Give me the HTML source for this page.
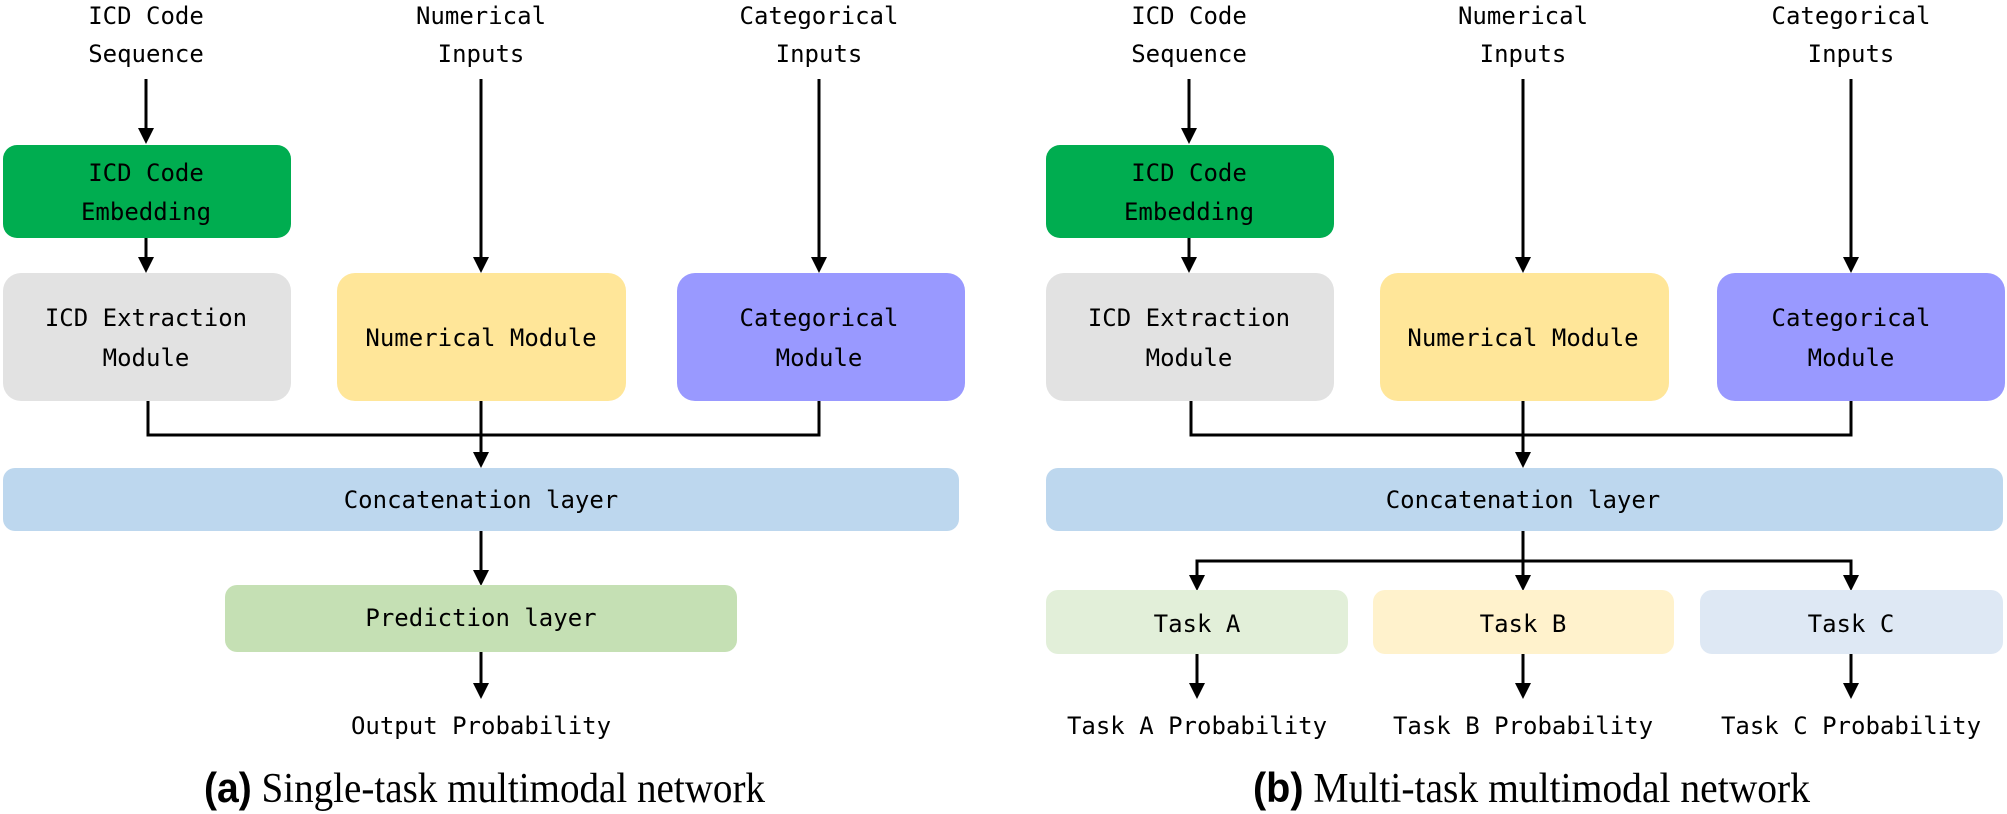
<!DOCTYPE html>
<html><head><meta charset="utf-8"><style>
html,body{margin:0;padding:0;background:#fff;}
svg{display:block;}
.m{font-family:"DejaVu Sans Mono","Liberation Mono",monospace;font-size:24px;fill:#000;text-anchor:middle;}
.c{font-family:"Liberation Serif",serif;font-size:42px;fill:#000;}
.b{font-family:"Liberation Sans",sans-serif;font-weight:bold;}
</style></head><body>
<svg width="2007" height="814" viewBox="0 0 2007 814" xmlns="http://www.w3.org/2000/svg">
<text class="m" x="146" y="24">ICD Code</text>
<text class="m" x="146" y="62">Sequence</text>
<text class="m" x="481" y="24">Numerical</text>
<text class="m" x="481" y="62">Inputs</text>
<text class="m" x="819" y="24">Categorical</text>
<text class="m" x="819" y="62">Inputs</text>
<g fill="none" stroke="#000" stroke-width="3">
<path d="M146 79V128"/><path d="M146 238V257"/>
<path d="M481 79V257"/><path d="M819 79V257"/>
<path d="M148 401V435H819V401"/><path d="M481 401V452"/>
<path d="M481 531V570"/><path d="M481 652V683"/>
<path d="M1189 79V128"/><path d="M1189 238V257"/>
<path d="M1523 79V257"/><path d="M1851 79V257"/>
<path d="M1191 401V435H1851V401"/><path d="M1523 401V452"/>
<path d="M1523 531V575"/><path d="M1197 575V561H1851V575"/>
<path d="M1197 654V683"/><path d="M1523 654V683"/><path d="M1851 654V683"/>
</g>
<g fill="#000">
<path d="M138 128h16l-8 16z"/><path d="M138 257h16l-8 16z"/>
<path d="M473 257h16l-8 16z"/><path d="M811 257h16l-8 16z"/>
<path d="M473 452h16l-8 16z"/><path d="M473 570h16l-8 16z"/><path d="M473 683h16l-8 16z"/>
<path d="M1181 128h16l-8 16z"/><path d="M1181 257h16l-8 16z"/>
<path d="M1515 257h16l-8 16z"/><path d="M1843 257h16l-8 16z"/>
<path d="M1515 452h16l-8 16z"/>
<path d="M1189 575h16l-8 16z"/><path d="M1515 575h16l-8 16z"/><path d="M1843 575h16l-8 16z"/>
<path d="M1189 683h16l-8 16z"/><path d="M1515 683h16l-8 16z"/><path d="M1843 683h16l-8 16z"/>
</g>
<rect x="3" y="145" width="288" height="93" rx="14" fill="#00ad50"/>
<text class="m" x="146" y="181">ICD Code</text><text class="m" x="146" y="220">Embedding</text>
<rect x="3" y="273" width="288" height="128" rx="18" fill="#e2e2e2"/>
<text class="m" x="146" y="326">ICD Extraction</text><text class="m" x="146" y="366">Module</text>
<rect x="337" y="273" width="289" height="128" rx="18" fill="#ffe699"/>
<text class="m" x="481" y="346">Numerical Module</text>
<rect x="677" y="273" width="288" height="128" rx="18" fill="#9999ff"/>
<text class="m" x="819" y="326">Categorical</text><text class="m" x="819" y="366">Module</text>
<rect x="3" y="468" width="956" height="63" rx="12" fill="#bdd7ee"/>
<text class="m" x="481" y="508">Concatenation layer</text>
<rect x="225" y="585" width="512" height="67" rx="12" fill="#c5e0b4"/>
<text class="m" x="481" y="626">Prediction layer</text>
<text class="m" x="481" y="734">Output Probability</text>
<text class="c" x="204" y="802" textLength="561" lengthAdjust="spacingAndGlyphs"><tspan class="b">(a)</tspan> Single-task multimodal network</text>
<text class="m" x="1189" y="24">ICD Code</text><text class="m" x="1189" y="62">Sequence</text>
<text class="m" x="1523" y="24">Numerical</text><text class="m" x="1523" y="62">Inputs</text>
<text class="m" x="1851" y="24">Categorical</text><text class="m" x="1851" y="62">Inputs</text>
<rect x="1046" y="145" width="288" height="93" rx="14" fill="#00ad50"/>
<text class="m" x="1189" y="181">ICD Code</text><text class="m" x="1189" y="220">Embedding</text>
<rect x="1046" y="273" width="288" height="128" rx="18" fill="#e2e2e2"/>
<text class="m" x="1189" y="326">ICD Extraction</text><text class="m" x="1189" y="366">Module</text>
<rect x="1380" y="273" width="289" height="128" rx="18" fill="#ffe699"/>
<text class="m" x="1523" y="346">Numerical Module</text>
<rect x="1717" y="273" width="288" height="128" rx="18" fill="#9999ff"/>
<text class="m" x="1851" y="326">Categorical</text><text class="m" x="1851" y="366">Module</text>
<rect x="1046" y="468" width="957" height="63" rx="12" fill="#bdd7ee"/>
<text class="m" x="1523" y="508">Concatenation layer</text>
<rect x="1046" y="590" width="302" height="64" rx="12" fill="#e2efd9"/>
<text class="m" x="1197" y="632">Task A</text>
<rect x="1373" y="590" width="301" height="64" rx="12" fill="#fff2cc"/>
<text class="m" x="1523" y="632">Task B</text>
<rect x="1700" y="590" width="303" height="64" rx="12" fill="#dee8f4"/>
<text class="m" x="1851" y="632">Task C</text>
<text class="m" x="1197" y="734">Task A Probability</text>
<text class="m" x="1523" y="734">Task B Probability</text>
<text class="m" x="1851" y="734">Task C Probability</text>
<text class="c" x="1253" y="802" textLength="557" lengthAdjust="spacingAndGlyphs"><tspan class="b">(b)</tspan> Multi-task multimodal network</text>
</svg>
</body></html>
